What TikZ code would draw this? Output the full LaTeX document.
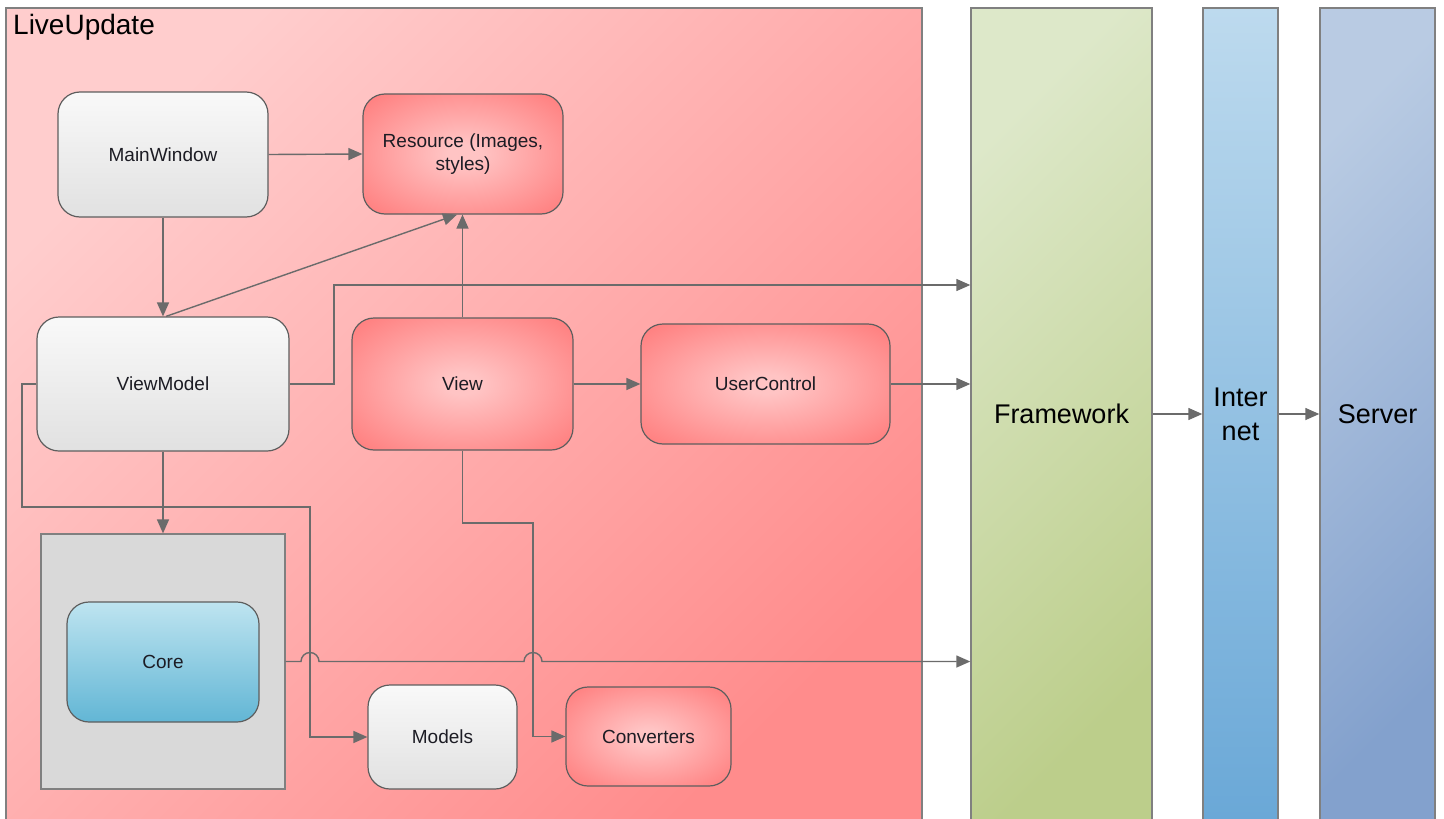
\documentclass[tikz,border=0pt]{standalone}
\usepackage{fontspec}
\setmainfont{Liberation Sans}
\usetikzlibrary{arrows.meta,shadows}

% palette
\definecolor{linegray}{HTML}{6B6B6B}
\definecolor{edgegray}{HTML}{5E5E5E}
\definecolor{framegray}{HTML}{808080}
\definecolor{textcol}{HTML}{1C1C24}
\definecolor{lutop}{HTML}{FFCDCD}
\definecolor{lubot}{HTML}{FF8C8C}
\definecolor{glowin}{HTML}{FFC4C4}
\definecolor{glowout}{HTML}{FF7070}
\definecolor{wtop}{HTML}{F9F9F9}
\definecolor{wbot}{HTML}{E1E1E1}
\definecolor{coretop}{HTML}{BEE4F0}
\definecolor{corebot}{HTML}{62B6D5}
\definecolor{grayfill}{HTML}{D9D9D9}
\definecolor{fwtop}{HTML}{DDE8C9}
\definecolor{fwbot}{HTML}{BCCE8B}
\definecolor{nettop}{HTML}{BDDAEE}
\definecolor{netbot}{HTML}{6AA8D7}
\definecolor{srvtop}{HTML}{B9CBE3}
\definecolor{srvbot}{HTML}{83A1CD}

% soft red glow: pale centre fading to red at the rim
\pgfdeclareradialshading{redglow}{\pgfpoint{0bp}{0bp}}{%
  color(0bp)=(glowin); color(4bp)=(glowin); color(40bp)=(glowout); color(75bp)=(glowout)}

\newcommand\nodefont{\fontsize{19}{23}\selectfont}
\newcommand\bigfont{\fontsize{27}{34}\selectfont}

\begin{document}
\begin{tikzpicture}[x=1pt,y=-1pt,
  conn/.style={draw=linegray, line width=1.4pt},
  arr/.style={conn, -{Triangle[length=14pt,width=12pt]}},
  box/.style={draw=edgegray, line width=1.2pt, rounded corners=22pt,
    align=center, inner sep=0pt, font=\nodefont, text=textcol},
  plainbox/.style={box, top color=wtop, bottom color=wbot},
  glowbox/.style={box, shade, shading=redglow},
  corenode/.style={box, top color=coretop, bottom color=corebot},
  holder/.style={draw=framegray, line width=1.2pt, fill=grayfill, inner sep=0pt},
  bigbox/.style={draw=framegray, line width=1.4pt, inner sep=0pt, align=center,
    font=\bigfont, text=black, minimum height=812pt},
]
\useasboundingbox (0,0) rectangle (1444,819);
\fill[white] (0,0) rectangle (1444,819);

% LiveUpdate container
\draw[draw=framegray, line width=1.4pt, top color=lutop, bottom color=lubot,
      shading angle=45] (6,8) rectangle (922,830);
\node[anchor=west, inner sep=0pt, font=\fontsize{28}{32}\selectfont, text=black]
  (title) at (13,27) {LiveUpdate};

% external tiers
\node[bigbox, minimum width=181pt, top color=fwtop, bottom color=fwbot,
      shading angle=45] (fw) at (1061.5,414) {Framework};
\node[bigbox, minimum width=75pt, top color=nettop, bottom color=netbot]
  (inet) at (1240.5,414) {Inter\\net};
\node[bigbox, minimum width=115pt, top color=srvtop, bottom color=srvbot,
      shading angle=45] (srv) at (1377.5,414) {Server};

% inner components
\node[plainbox, minimum width=210pt, minimum height=125pt] (mw) at (163,154.5) {MainWindow};
\node[glowbox, minimum width=200pt, minimum height=120pt] (res) at (463,154) {Resource (Images,\\styles)};
\node[plainbox, minimum width=252pt, minimum height=134pt] (vm) at (163,384) {ViewModel};
\node[glowbox, minimum width=221pt, minimum height=132pt] (view) at (462.5,384) {View};
\node[glowbox, minimum width=249pt, minimum height=120pt] (uc) at (765.5,384) {UserControl};
\node[holder, minimum width=244pt, minimum height=255pt] (corebox) at (163,661.5) {};
\node[corenode, minimum width=192pt, minimum height=120pt] (core) at (163,662) {Core};
\node[plainbox, minimum width=149pt, minimum height=104pt] (models) at (442.5,737) {Models};
\node[glowbox, minimum width=165pt, minimum height=99pt] (conv) at (648.5,736.5) {Converters};

% connectors
\draw[arr] (mw.east) -- (res.west);
\draw[arr] (mw.south) -- (vm.north);
\draw[arr] ([xshift=3pt]vm.north) -- ([xshift=-6pt]res.south);
\draw[arr] (view.north) -- (view.north |- res.south);
\draw[arr] (vm.east) -- (334,384) -- (334,285) -- (fw.west |- 0,285);
\draw[arr] (view.east) -- (uc.west);
\draw[arr] (uc.east) -- (fw.west |- uc.east);
\draw[arr] (vm.south) -- (corebox.north);
\draw[arr] (vm.west) -- (22,384) -- (22,507) -- (310,507) -- (310,737) -- (models.west);
\draw[arr] (view.south) -- (462.5,523) -- (533,523) -- (533,736.5) -- (conv.west);
\draw[arr] (corebox.east) -- (301,661.5) arc[start angle=180, end angle=0, radius=9pt]
  -- (524,661.5) arc[start angle=180, end angle=0, radius=9pt]
  -- (fw.west |- corebox.east);
\draw[arr] (fw.east) -- (inet.west);
\draw[arr] (inet.east) -- (srv.west);
\end{tikzpicture}
\end{document}
